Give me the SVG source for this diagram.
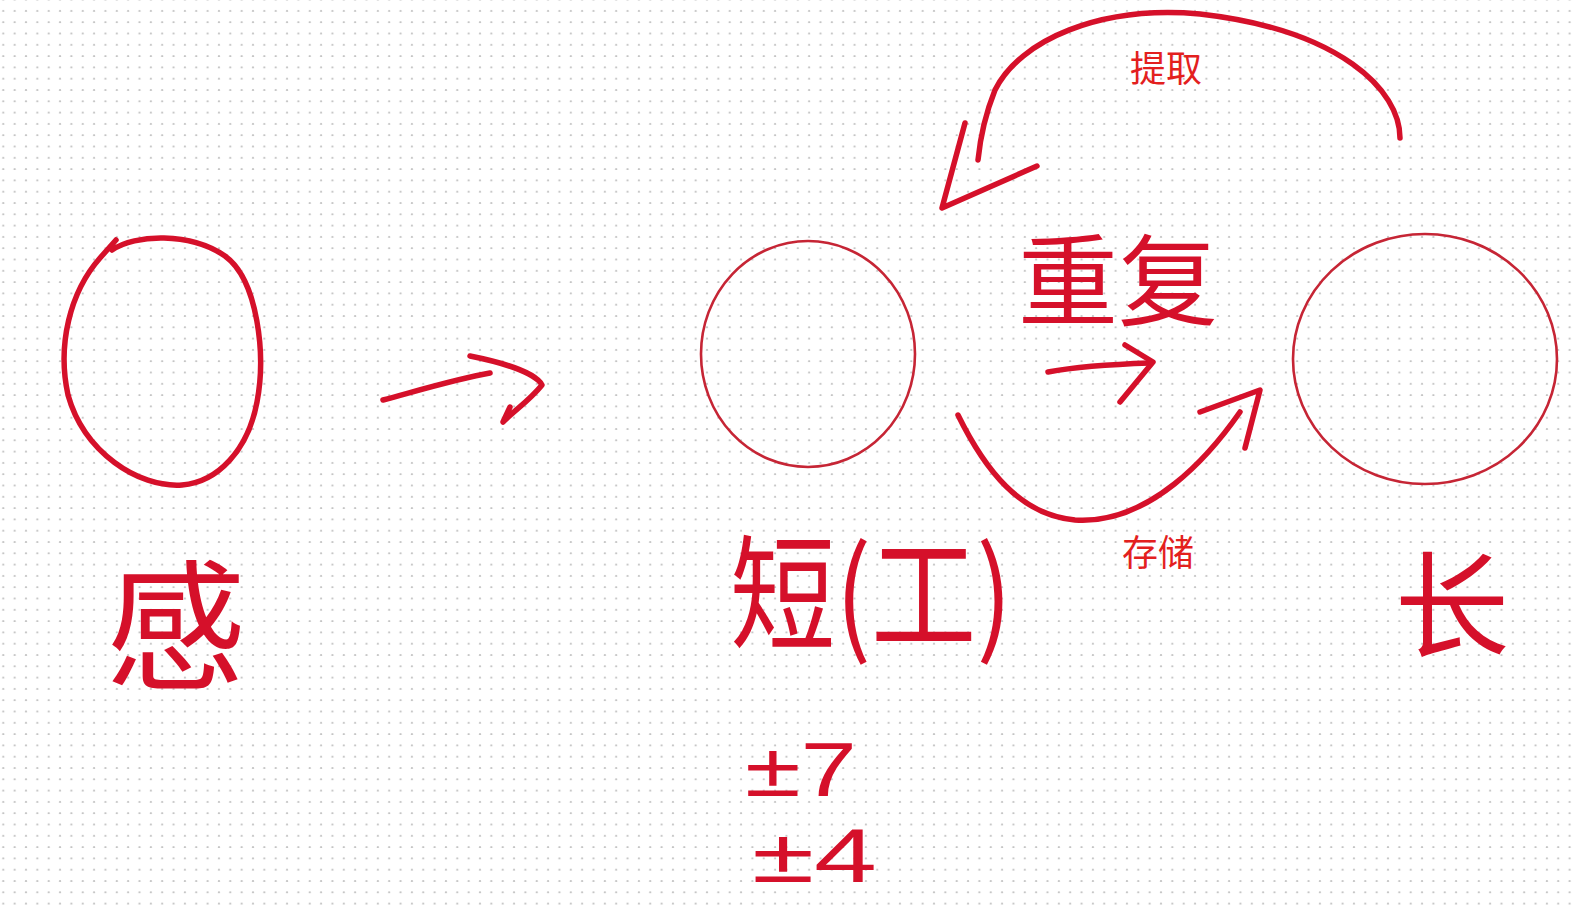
<svg xmlns="http://www.w3.org/2000/svg" width="1579" height="905" viewBox="0 0 1579 905">
  <defs>
    <pattern id="dots" x="3.3" y="0.5" width="11.35" height="11.3" patternUnits="userSpaceOnUse">
      <circle cx="0" cy="10.5" r="1.15" fill="#c4c4c4"/>
      <circle cx="11.35" cy="10.5" r="1.15" fill="#c4c4c4"/>
    </pattern>
    <style>
      .ink { fill: none; stroke: #d5102a; stroke-width: 5.5; stroke-linecap: round; stroke-linejoin: round; }
      .thin { fill: none; stroke: #c62535; stroke-width: 2.6; }
      .hand { font-family: "Noto Sans CJK SC", "Noto Sans", sans-serif; fill: #d5102a; font-weight: 400; }
      .num { font-family: "Liberation Sans", "Noto Sans", sans-serif; fill: #d5102a; }
      .typed { font-family: "Noto Sans CJK SC", "Liberation Sans", sans-serif; fill: #e3201e; font-size: 36px; }
    </style>
  </defs>
  <rect width="1579" height="905" fill="#ffffff"/>
  <rect width="1579" height="905" fill="url(#dots)"/>

  <g id="sensory">
    <path class="ink" d="M112,250 C135,234 190,232 225,256 C258,280 266,355 257,402 C248,450 218,482 182,485 C138,488 84,452 68,395 C57,345 70,292 100,258 L116,240"/>
    <text class="hand" x="176" y="678" font-size="140" text-anchor="middle">感</text>
  </g>

  <g id="short-term">
    <ellipse class="thin" cx="808" cy="354" rx="107" ry="113"/>
    <text class="hand" x="730" y="640" font-size="125" textLength="282" lengthAdjust="spacingAndGlyphs">短(工)</text>
    <text class="num" x="745" y="796" font-size="76" textLength="112" lengthAdjust="spacingAndGlyphs">±7</text>
    <text class="num" x="752" y="882" font-size="76" textLength="125" lengthAdjust="spacingAndGlyphs">±4</text>
  </g>

  <g id="long-term">
    <ellipse class="thin" cx="1425" cy="359" rx="132" ry="125"/>
    <text class="hand" x="1452" y="648" font-size="115" text-anchor="middle">长</text>
  </g>

  <g id="connectors">
    <path class="ink" d="M383,400 C420,390 460,378 490,373"/>
    <path class="ink" d="M470,356 C500,362 535,372 542,385 C530,400 515,410 503,422 L510,407"/>
    <path class="ink" d="M1400,138 C1400,90 1340,30 1200,14 C1100,5 1020,40 995,90 C985,115 980,140 978,160"/>
    <path class="ink" d="M965,123 L942,208 L1037,166"/>
    <path class="ink" d="M958,415 C985,470 1020,515 1075,520 C1150,525 1210,455 1240,412"/>
    <path class="ink" d="M1200,412 L1260,390 L1245,448"/>
    <path class="ink" d="M1048,372 C1080,366 1120,364 1150,363"/>
    <path class="ink" d="M1125,345 L1153,362 L1120,402"/>
  </g>

  <g id="labels">
    <text class="hand" x="1118" y="318" font-size="100" text-anchor="middle">重复</text>
    <text class="typed" x="1130" y="82">提取</text>
    <text class="typed" x="1122" y="566">存储</text>
  </g>
</svg>
